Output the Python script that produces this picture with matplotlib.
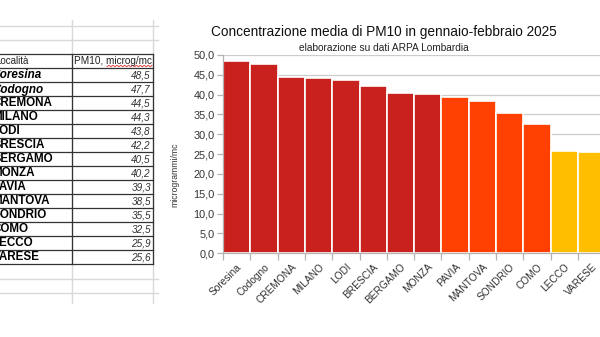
import numpy as np
import matplotlib
matplotlib.use("Agg")
import matplotlib.pyplot as plt
from matplotlib.patches import Rectangle
from matplotlib.ticker import FuncFormatter, FixedLocator

plt.rcParams['font.family'] = ['Liberation Sans', 'DejaVu Sans']

# dati
localita = ["Soresina", "Codogno", "CREMONA", "MILANO", "LODI", "BRESCIA", "BERGAMO",
            "MONZA", "PAVIA", "MANTOVA", "SONDRIO", "COMO", "LECCO", "VARESE"]
pm10 = [48.5, 47.7, 44.5, 44.3, 43.8, 42.2, 40.5, 40.2, 39.3, 38.5, 35.5, 32.5, 25.9, 25.6]
header = ["Località", "PM10, microg/mc"]
title = "Concentrazione media di PM10 in gennaio-febbraio 2025"
subtitle = "elaborazione su dati ARPA Lombardia"
ylabel = "microgrammi/mc"

W, H = 600, 337
fig = plt.figure(figsize=(6, 3.37), dpi=100)
fig.patch.set_facecolor("white")

# overlay in pixel coords for the spreadsheet part
bg = fig.add_axes([0, 0, 1, 1], zorder=0)
bg.set_xlim(0, W)
bg.set_ylim(H, 0)
bg.axis("off")

grid_c = "#d9d9d9"
# spreadsheet grid lines
for y in [26, 40, 279, 293]:
    bg.plot([0, 158], [y, y], color=grid_c, lw=1)
for x in [72, 153]:
    bg.plot([x, x], [20, 303], color=grid_c, lw=1)

# table
top = 54
rh = 14
nrows = len(localita) + 1
bottom = top + nrows * rh
for i in range(nrows + 1):
    bg.plot([0, 153], [top + i * rh, top + i * rh], color="#333333", lw=0.9)
for x in [72, 153]:
    bg.plot([x, x], [top, bottom], color="#333333", lw=0.9)

bg.text(-5, top + rh / 2 + 0.5, header[0], fontsize=7, va="center", ha="left", color="#222222")
t = bg.text(74, top + rh / 2 + 0.5, header[1], fontsize=7.2, va="center", ha="left", color="#222222")
cell = Rectangle((72, top), 81, rh, transform=bg.transData, fill=False, visible=False)
bg.add_patch(cell)
t.set_clip_path(cell)
# spell-check squiggle
sx = np.linspace(107, 152, 60)
bg.plot(sx, 66 + 0.8 * np.sin(sx * 1.6), color="#e03030", lw=0.6)

for i, (name, v) in enumerate(zip(localita, pm10)):
    yc = top + (i + 1.5) * rh + 0.5
    style = "italic" if name[1:].islower() else "normal"
    bg.text(-7.5, yc, name, fontsize=8.4, fontweight="bold", style=style,
            va="center", ha="left", color="#000000")
    bg.text(151, yc, f"{v:.1f}".replace(".", ","), fontsize=7.2, style="italic",
            va="center", ha="right", color="#333333")

# chart
pitch = 27.3
ax_left, ax_bottom, ax_top = 223, 253.3, 55
ax = fig.add_axes([ax_left / W, 1 - ax_bottom / H, len(localita) * pitch / W, (ax_bottom - ax_top) / H],
                  zorder=1)
ax.patch.set_alpha(0)


def colore(v):
    if v >= 40:
        return "#C9211E"
    if v >= 30:
        return "#FF4000"
    return "#FFBF00"


x = np.arange(len(localita))
ax.bar(x, pm10, width=1.0, color=[colore(v) for v in pm10], edgecolor="white", linewidth=1.2, zorder=2)
ax.set_xlim(-0.5, len(localita) - 0.5)
ax.set_ylim(0, 50)
ax.set_yticks(np.arange(0, 51, 5))
ax.yaxis.set_major_formatter(FuncFormatter(lambda v, p: f"{v:.1f}".replace(".", ",")))
ax.grid(axis="y", color="#cccccc", lw=0.9, zorder=0)
ax.set_axisbelow(True)

ax.set_xticks(x)
ax.set_xticklabels(localita, rotation=45, ha="right", va="top", rotation_mode="anchor",
                   fontsize=7.3, color="#333333")
ax.xaxis.set_minor_locator(FixedLocator(np.arange(-0.5, len(localita), 1)))
ax.tick_params(axis="x", which="major", length=0, pad=6)
ax.tick_params(axis="x", which="minor", length=5, color="#b3b3b3", width=0.9)
ax.tick_params(axis="y", length=4, color="#b3b3b3", width=0.9, labelsize=7.8, labelcolor="#333333", pad=2)

for s in ["top", "right"]:
    ax.spines[s].set_visible(False)
for s in ["left", "bottom"]:
    ax.spines[s].set_color("#b3b3b3")
    ax.spines[s].set_linewidth(0.9)

ax.set_ylabel(ylabel, fontsize=6.2, color="#333333")
ax.yaxis.set_label_coords(-0.113, 0.395)

fig.text(384 / W, 1 - 32 / H, title, fontsize=9.8, ha="center", va="center", color="#111111")
fig.text(384 / W, 1 - 48 / H, subtitle, fontsize=7.3, ha="center", va="center", color="#222222")

fig.savefig("out.png", dpi=100)
